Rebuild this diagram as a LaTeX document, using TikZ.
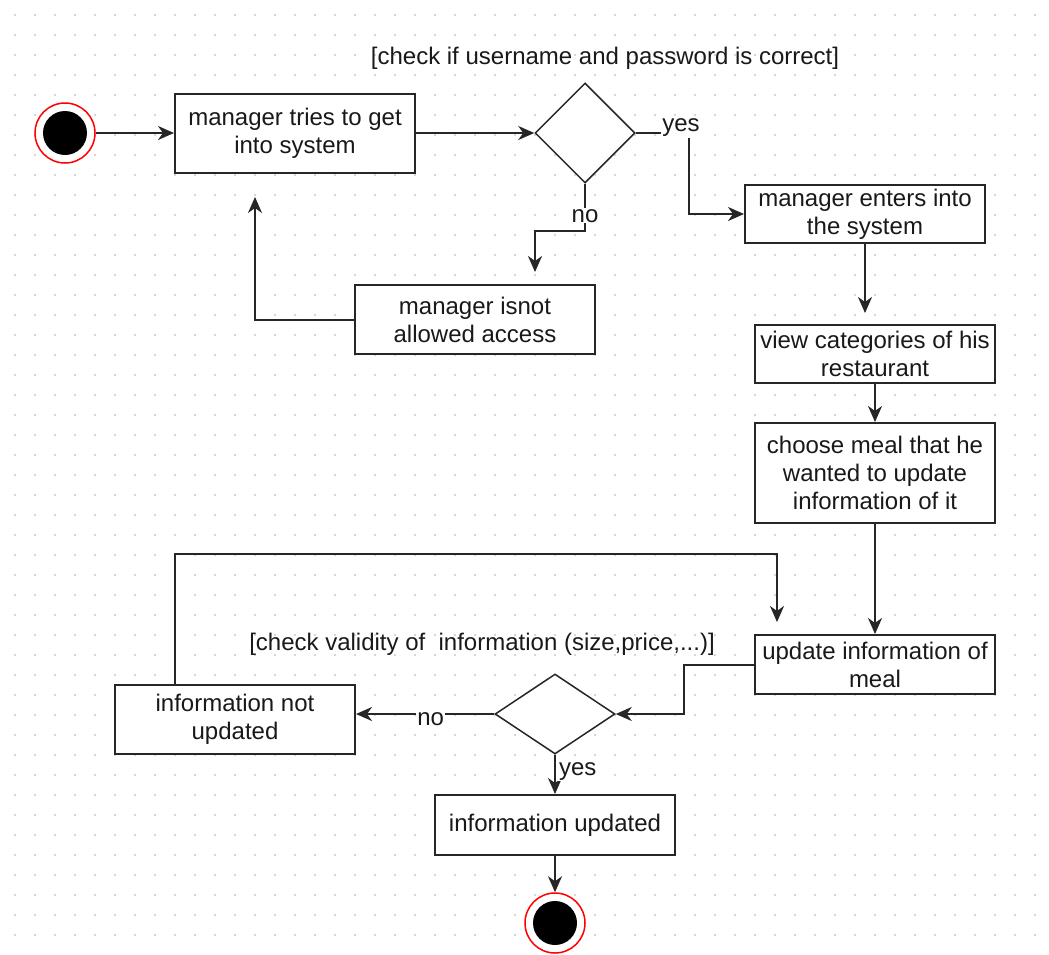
\documentclass[tikz,border=0pt]{standalone}
\usepackage{fontspec}
\setmainfont{Liberation Sans}
\usepackage{tikz}
\usetikzlibrary{positioning, arrows.meta, shapes.geometric}
\tikzset{
  >={Stealth[length=16pt, width=14pt, inset=5pt]},
  flow/.style={->, line width=2pt, draw=black!85},
  activity/.style={draw=black!85, line width=2pt, fill=white, align=center,
    minimum width=240pt, inner sep=2pt, font=\fontsize{24}{28}\selectfont, text=black!90},
  choice/.style={diamond, draw=black!85, line width=1.5pt, fill=white, inner sep=0pt},
  guard/.style={fill=white, inner sep=1pt, font=\fontsize{24}{28}\selectfont, text=black!90},
  startstop/.style={circle, draw=red, line width=1.5pt, fill=white, minimum size=60pt, inner sep=0pt,
    path picture={\fill[black] (path picture bounding box.center) circle (22pt);}},
}

\begin{document}
\begin{tikzpicture}[x=1pt, y=-1pt]
  \useasboundingbox (0,0) rectangle (1049,954);
  % grid
  \foreach \i in {0,...,51}
    \foreach \j in {0,...,46}
      \fill[black!22] (15+20*\i, 15+20*\j) circle (1.1pt);

  % activities
  \node[startstop] (start) at (65,133) {};
  \node[activity, minimum height=79pt] (tries) at (295,133.5) {manager tries to get\\into system};
  \node[choice, minimum width=100pt, minimum height=100pt] (login) at (585,133) {};
  \node[guard, fill=none] (logtxt) at (605,58) {[check if username and password is correct]};
  \node[activity, minimum height=58pt] (enters) at (865,214) {manager enters into\\the system};
  \node[activity, minimum height=69pt] (denied) at (475,319.5) {manager isnot\\allowed access};
  \node[activity, minimum height=58pt] (cats) at (875,354) {view categories of his\\restaurant};
  \node[activity, minimum height=100pt] (meal) at (875,473) {choose meal that he\\wanted to update\\information of it};
  \node[activity, minimum height=59pt] (update) at (875,664.5) {update information of\\meal};
  \node[choice, aspect=1.5, minimum width=120pt, minimum height=80pt] (valid) at (555,714) {};
  \node[guard, fill=none] (validtxt) at (482,644) {[check validity of\ \ information (size,price,...)]};
  \node[activity, minimum height=69pt] (notupd) at (235,719.5) {information not\\updated};
  \node[activity, minimum height=60pt] (upd) at (555,825) {information updated};
  \node[startstop] (stop) at (555,923) {};

  % free ends
  \coordinate (backup) at (255,197);
  \coordinate (noend) at (535,272);
  \coordinate (catsin) at (865,313);
  \coordinate (retry) at (777,622);

  % transitions
  \draw[flow] (start) -- (tries.west |- start);
  \draw[flow] (tries.east |- login) -- (login);
  \draw[flow] (login.east) -| node[guard, pos=0.5, xshift=-8pt, yshift=5pt]{yes} ([xshift=-55pt]enters.west) -- (enters.west);
  \draw[flow] (login.south) -- node[guard, pos=0.68]{no} ++(0,47) -| (noend);
  \draw[flow] (denied.west) -| (backup);
  \draw[flow] (enters.south) -- (catsin);
  \draw[flow] (cats.south) -- (meal.north);
  \draw[flow] (meal.south) -- (update.north);
  \draw[flow] (update.west) -- ++(-70,0) |- (valid.east);
  \draw[flow] (valid.west) -- node[guard, pos=0.46, yshift=-5pt]{no} (valid.west -| notupd.east);
  \draw[flow] (valid.south) -- node[guard, right, xshift=2pt, yshift=3pt]{yes} (upd.north);
  \draw[flow] (upd.south) -- (stop);
  \draw[flow] ([xshift=-60pt]notupd.north) -- ++(0,-130) -| (retry);
\end{tikzpicture}
\end{document}
